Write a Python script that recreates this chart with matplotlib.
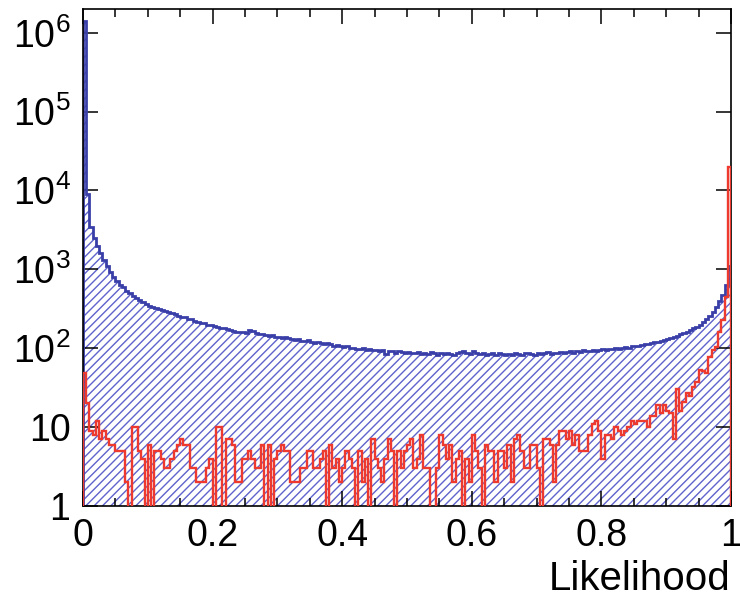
import numpy as np
import matplotlib
matplotlib.use("Agg")
import matplotlib.pyplot as plt
from matplotlib.ticker import FixedLocator, MultipleLocator, LogLocator, NullFormatter

plt.rcParams['font.family'] = ['Liberation Sans', 'DejaVu Sans']
plt.rcParams['mathtext.fontset'] = 'custom'
plt.rcParams['mathtext.rm'] = 'Liberation Sans'
plt.rcParams['mathtext.it'] = 'Liberation Sans'
plt.rcParams['hatch.linewidth'] = 1.0

# ---- data (200 bins over 0..1) ----
x_min, x_max = 0.0, 1.0

blue_counts = [
    1.4e6, 9000, 3400, 2500, 2000, 1600, 1300, 1100, 930, 810, 720, 640, 590, 535, 500, 460, 435, 410, 390, 365, 345,
    330, 322, 310, 302, 296, 285, 276, 268, 257, 250, 246, 238, 232, 224, 216, 211, 206, 200, 196, 190, 186, 181, 178, 176, 170, 166, 163, 160,
    163, 158, 168, 165, 155, 152, 150, 148, 145, 147, 140, 138, 136, 139, 133, 130, 128, 131, 125, 122, 126, 120, 118, 121, 115, 113, 116,
    112, 108, 110, 106, 104, 107, 102, 100, 97, 99, 101, 95, 98, 94, 96, 92, 95, 84, 93, 91, 88, 92, 90, 87, 89,
    88, 86, 90, 85, 87, 84, 89, 86, 83, 87, 85, 88, 84, 82, 86, 90, 93, 88, 85, 91, 87, 84, 86, 82, 85, 88, 83, 86, 84, 81,
    85, 83, 87, 84, 82, 86, 88, 85, 83, 87, 84, 86, 89, 85, 88, 86, 90, 87, 89, 91, 88, 92, 90, 94, 91, 93, 96, 92, 95, 97,
    96, 99, 97, 100, 98, 102, 104, 101, 106, 108, 106, 111, 114, 112, 117, 121, 119, 125, 128, 131, 135, 139, 144, 150, 155,
    162, 170, 178, 188, 200, 215, 235, 258, 285, 330, 400, 470, 640, 1100,
]

red_counts = [
    48, 20, 9, 8, 12, 7, 9, 7, 6, 6, 5, 5, 5, 2, 0, 10, 10, 5, 4, 0,
    6, 0, 5, 5, 4, 3, 3, 4, 5, 6, 7, 6, 6, 3, 3, 2, 2, 2, 3, 4,
    0, 10, 10, 0, 7, 7, 6, 2, 2, 4, 4, 5, 4, 3, 3, 6, 0, 6, 0, 4,
    5, 6, 5, 5, 2, 2, 2, 3, 3, 5, 5, 3, 3, 4, 5, 0, 6, 3, 4, 2,
    3, 5, 4, 3, 0, 5, 2, 4, 0, 7, 4, 3, 2, 4, 7, 5, 0, 5, 3, 5,
    6, 7, 3, 4, 8, 3, 3, 0, 0, 3, 8, 6, 4, 6, 2, 4, 5, 0, 4, 2,
    8, 5, 3, 0, 6, 5, 5, 2, 5, 5, 3, 6, 2, 7, 8, 5, 3, 3, 6, 6,
    3, 0, 7, 7, 6, 2, 6, 9, 9, 7, 9, 6, 8, 5, 5, 5, 8, 11, 12, 9,
    4, 8, 8, 7, 10, 9, 8, 9, 10, 12, 11, 12, 12, 12, 10, 14, 14, 19, 15, 19,
    16, 15, 7, 30, 16, 21, 27, 25, 32, 37, 53, 52, 48, 78, 95, 105, 160, 230, 450, 20000,
]

x_ticks = [0, 0.2, 0.4, 0.6, 0.8, 1]
x_tick_labels = ['0', '0.2', '0.4', '0.6', '0.8', '1']
y_ticks = [1, 10, 1e2, 1e3, 1e4, 1e5, 1e6]
y_tick_labels = ['1', '10', r'$10^{2}$', r'$10^{3}$', r'$10^{4}$', r'$10^{5}$', r'$10^{6}$']
x_label = 'Likelihood'

blue_line = '#3a3fa8'
blue_hatch = '#5f63cc'
red_line = '#ee3a2e'

edges = np.linspace(x_min, x_max, len(blue_counts) + 1)
floor = 1e-2
blue = np.clip(np.asarray(blue_counts, float), floor, None)
red = np.clip(np.asarray(red_counts, float), floor, None)

fig = plt.figure(figsize=(7.40, 5.99), dpi=100)
ax = fig.add_axes([83/740, 1 - 506/599, (731-83)/740, (506-9)/599])

ax.stairs(blue, edges, baseline=floor, fill=True, facecolor='none',
          edgecolor=blue_hatch, hatch='////', linewidth=0, zorder=1)
ax.stairs(blue, edges, baseline=floor, color=blue_line, linewidth=2.0, zorder=2)
ax.stairs(red, edges, baseline=floor, color=red_line, linewidth=1.7, zorder=3)

ax.set_yscale('log')
ax.set_xlim(x_min, x_max)
ax.set_ylim(1, 2.0e6)

ax.xaxis.set_major_locator(FixedLocator(x_ticks))
ax.set_xticklabels(x_tick_labels)
ax.xaxis.set_minor_locator(MultipleLocator(0.05))
ax.yaxis.set_major_locator(FixedLocator(y_ticks))
ax.set_yticklabels(y_tick_labels)
ax.yaxis.set_minor_locator(LogLocator(base=10, subs=np.arange(2, 10)))
ax.yaxis.set_minor_formatter(NullFormatter())

ax.tick_params(which='both', direction='in', top=True, right=True, width=1.1, color='black')
ax.tick_params(which='major', length=11)
ax.tick_params(which='minor', length=5.5)
ax.tick_params(axis='x', which='major', labelsize=27, pad=9)
ax.tick_params(axis='y', which='major', labelsize=27, pad=9)
for s in ax.spines.values():
    s.set_linewidth(1.2)

fig.text(731/740, 1 - 590/599, x_label, ha='right', va='baseline', fontsize=29)

fig.savefig('out.png', dpi=100)
